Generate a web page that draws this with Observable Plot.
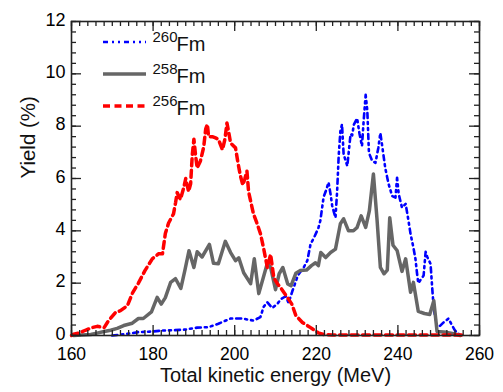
<!DOCTYPE html>
<html><head><meta charset="utf-8">
<script src="https://cdn.jsdelivr.net/npm/d3@7"></script>
<script src="https://cdn.jsdelivr.net/npm/@observablehq/plot@0.6"></script>
<style>
body{margin:0;background:#fff;}
#chart{position:relative;width:503px;height:392px;}
</style>
</head><body><div id="chart"></div>
<script>
// ---- data ----
const fm260E = [170, 173.6, 176.4, 179.8, 182.2, 185, 188, 190.8, 193.6, 196, 199, 201.8, 204.6, 206.3, 207.1, 208, 209.2, 210.4, 211.4, 212.5, 213.2, 214.1, 215.5, 216.9, 217.8, 218.6, 219.4, 220.5, 221, 221.4, 221.8, 222.3, 223, 223.5, 223.9, 224.7, 225.1, 225.5, 225.9, 226.3, 226.7, 227.6, 228.4, 228.8, 229.2, 230, 230.6, 231.2, 231.6, 232.1, 232.5, 232.9, 233.7, 234.5, 235.2, 235.7, 236.1, 236.9, 237.7, 238.6, 239.4, 239.8, 240.2, 241, 241.9, 242.6, 243.1, 243.8, 244.3, 244.7, 245, 246.3, 246.8, 247.2, 248, 248.4, 248.8, 249.6, 250, 251.2, 252.4, 253.3, 254, 255.3];
const fm260Y = [0, 0.06, 0.13, 0.15, 0.19, 0.2, 0.23, 0.3, 0.32, 0.45, 0.65, 0.65, 0.57, 0.7, 1.1, 1.27, 1.05, 1.2, 1.4, 1.5, 1.25, 1.68, 2.3, 2.6, 2.86, 3.5, 3.73, 4.1, 4.4, 4.85, 5.3, 5.5, 5.85, 5.4, 4.95, 4.5, 5.5, 6.9, 7.8, 8.07, 6.92, 6.48, 7.7, 7.65, 8.06, 8.3, 7.7, 7.24, 8.19, 9.2, 8.6, 6.98, 6.67, 6.6, 7.17, 7.74, 7.3, 6.4, 5.8, 5.33, 5.27, 6.03, 5.4, 4.89, 5.03, 4.38, 3.88, 3.36, 2.93, 2.36, 2.0, 2.29, 3.2, 3.0, 2.74, 1.84, 1.0, 0.35, 0.32, 0.5, 0.65, 0.38, 0.19, 0];

const fm258E = [160.5, 162.5, 164.7, 166.5, 168, 169.6, 171.2, 172.8, 174.9, 176.4, 177.6, 179.6, 181, 182, 183, 184.3, 185.5, 186.8, 187.8, 188.8, 190, 190.8, 192, 193.8, 194.8, 196, 197.7, 199, 200.2, 201, 202.2, 203.9, 204.8, 205.9, 208, 208.8, 210, 210.9, 211.8, 213, 213.8, 215, 216, 217.6, 218.8, 219.8, 220.5, 221.1, 222.3, 223.5, 224.7, 225.9, 226.7, 227.9, 229.1, 230, 231, 232.1, 233, 234, 234.9, 235.7, 236.6, 237.4, 238, 238.8, 239.8, 241, 241.9, 243.1, 243.8, 245, 246.5, 247.8, 248.8, 249.6, 252, 254, 255.3];
const fm258Y = [0, 0.02, 0.04, 0.1, 0.15, 0.2, 0.27, 0.38, 0.47, 0.65, 0.65, 0.9, 1.46, 1.2, 1.45, 2.03, 2.17, 1.8, 2.5, 3.24, 2.6, 3.2, 3.0, 3.48, 2.76, 2.74, 3.6, 3.17, 2.86, 2.97, 2.4, 1.98, 2.93, 1.6, 2.76, 2.6, 1.75, 2.36, 2.6, 1.97, 1.9, 2.38, 2.48, 2.5, 2.67, 2.78, 2.67, 3.17, 2.98, 3.17, 3.3, 4.27, 4.46, 4.0, 4.0, 4.13, 4.57, 4.13, 4.76, 6.17, 4.4, 2.6, 2.36, 2.5, 4.5, 3.45, 3.25, 2.45, 2.93, 1.65, 2.03, 0.92, 0.84, 0.8, 1.33, 0.15, 0.12, 0.06, 0];

const fm256E = [160, 160.5, 162, 163.4, 165, 166.3, 168, 169, 170.8, 172, 173.7, 175, 176.4, 178, 179.8, 181.3, 182.3, 183, 183.8, 185, 185.5, 185.9, 186.7, 187.5, 188, 188.7, 189.2, 189.6, 190, 190.4, 190.8, 191.6, 192.4, 192.9, 193.3, 193.6, 194.5, 195.3, 196, 197, 197.6, 198.1, 198.5, 199, 200.2, 200.8, 201.4, 202, 202.5, 203, 203.4, 204, 204.6, 205.5, 206.3, 207, 207.5, 208, 208.8, 209.6, 210.5, 211.2, 212.9, 214, 215, 216.6, 218.6, 220.5, 222, 224, 256];
const fm256Y = [0, 0.05, 0.1, 0.2, 0.3, 0.35, 0.3, 0.55, 0.88, 0.95, 1.14, 1.64, 2.0, 2.48, 2.93, 3.12, 3.12, 3.9, 4.3, 4.65, 5.07, 5.46, 5.2, 5.64, 6.0, 5.5, 5.8, 6.9, 7.5, 6.9, 6.4, 6.67, 7.2, 7.9, 8.07, 7.6, 7.6, 7.55, 7.5, 7.1, 7.5, 8.12, 7.8, 7.35, 7.17, 6.6, 6.1, 5.75, 6.0, 6.28, 5.5, 5.07, 4.65, 4.27, 3.9, 3.4, 3.0, 2.6, 3.1, 2.2, 1.97, 1.84, 1.46, 1.2, 0.76, 0.5, 0.3, 0.1, 0.03, 0.02, 0.02];

const seriesMass = ["260", "258", "256"];
const seriesElement = "Fm";
const xTickValues = [160, 180, 200, 220, 240, 260];
const yTickValues = [0, 2, 4, 6, 8, 10, 12];
const xMinorValues = d3.range(160, 260.01, 2);
const yMinorValues = d3.range(0, 12.001, 0.4);
const xTitle = "Total kinetic energy (MeV)";
const yTitle = "Yield (%)";

// ---- styles ----
const styles = {
  "260": {stroke: "#0000ff", strokeWidth: 2.6, dash: "5,4,2,4,2,4"},
  "258": {stroke: "#666666", strokeWidth: 3.5, dash: null},
  "256": {stroke: "#ff0000", strokeWidth: 3.5, dash: "7,4.5"}
};
const rows = (E, Y) => E.map((e, i) => ({E: e, Y: Y[i]}));
const data = {"260": rows(fm260E, fm260Y), "258": rows(fm258E, fm258Y), "256": rows(fm256E, fm256Y)};

const width = 503, height = 392;
const ml = 71, mr = 24, mt = 21, mb = 57;
const W = width - ml - mr, H = height - mt - mb;
const majorLen = 10, minorLen = 5;
const tickColor = "#222";
const font = "'Liberation Sans', Arial, Helvetica, sans-serif";

const lineMark = k => Plot.line(data[k], {x: "E", y: "Y", stroke: styles[k].stroke, strokeWidth: styles[k].strokeWidth, strokeDasharray: styles[k].dash, strokeLinejoin: "round"});

const svg = Plot.plot({
  width, height,
  marginLeft: ml, marginRight: mr, marginTop: mt, marginBottom: mb,
  style: {fontFamily: font, color: "#000", background: "#fff"},
  x: {domain: [160, 260]},
  y: {domain: [0, 12]},
  marks: [
    lineMark("260"),
    lineMark("258"),
    lineMark("256"),
    // inside ticks, mirrored on all four sides
    Plot.tickX(xTickValues, {x: d => d, insetTop: H - majorLen, stroke: tickColor, strokeWidth: 1.3}),
    Plot.tickX(xTickValues, {x: d => d, insetBottom: H - majorLen, stroke: tickColor, strokeWidth: 1.3}),
    Plot.tickX(xMinorValues, {x: d => d, insetTop: H - minorLen, stroke: tickColor, strokeWidth: 1.3}),
    Plot.tickX(xMinorValues, {x: d => d, insetBottom: H - minorLen, stroke: tickColor, strokeWidth: 1.3}),
    Plot.tickY(yTickValues, {y: d => d, insetRight: W - majorLen, stroke: tickColor, strokeWidth: 1.3}),
    Plot.tickY(yTickValues, {y: d => d, insetLeft: W - majorLen, stroke: tickColor, strokeWidth: 1.3}),
    Plot.tickY(yMinorValues, {y: d => d, insetRight: W - minorLen, stroke: tickColor, strokeWidth: 1.3}),
    Plot.tickY(yMinorValues, {y: d => d, insetLeft: W - minorLen, stroke: tickColor, strokeWidth: 1.3}),
    Plot.frame({stroke: tickColor, strokeWidth: 1.6}),
    Plot.axisX(xTickValues, {tickSize: 0, tickPadding: 12, fontSize: 17.5, label: null, tickFormat: d => String(d)}),
    Plot.axisY(yTickValues, {tickSize: 0, tickPadding: 6, dy: -1.5, fontSize: 18, label: null, tickFormat: d => String(d)}),
    Plot.text([xTitle], {text: d => d, frameAnchor: "bottom", dy: 46, fontSize: 20, fill: "#111"}),
    Plot.text([yTitle], {text: d => d, frameAnchor: "left", dx: -43, rotate: -90, fontSize: 20.5, fill: "#111"})
  ]
});

document.getElementById("chart").appendChild(svg);

// ---- legend (inside the frame, top-left) ----
const lg = d3.select(svg).append("g").attr("font-family", font).attr("fill", "#111");
const legendX1 = 103, legendX2 = 146, legendTop = 42, legendStep = 32;
seriesMass.forEach((m, i) => {
  const yy = legendTop + i * legendStep;
  const s = styles[m];
  lg.append("line").attr("x1", legendX1).attr("x2", legendX2).attr("y1", yy).attr("y2", yy)
    .attr("stroke", s.stroke).attr("stroke-width", s.strokeWidth)
    .attr("stroke-dasharray", s.dash);
  lg.append("text").attr("x", 165).attr("y", yy).attr("font-size", 15).text(m);
  lg.append("text").attr("x", 191).attr("y", yy + 8.5).attr("font-size", 20).text(seriesElement);
});
</script>
</body></html>
